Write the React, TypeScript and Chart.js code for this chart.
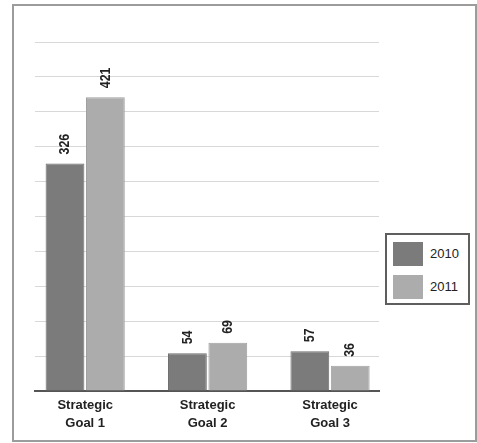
import React, { useEffect, useRef } from 'react';
import { Chart, registerables } from 'chart.js';

Chart.register(...registerables);

// Category labels (two lines each) and yearly series
const categories: string[][] = [
  ['Strategic', 'Goal 1'],
  ['Strategic', 'Goal 2'],
  ['Strategic', 'Goal 3'],
];
const seriesNames = ['2010', '2011'];
const values2010 = [326, 54, 57];
const values2011 = [421, 69, 36];
const seriesColors = ['#7b7b7b', '#acacac'];
const seriesEdges = ['#6e6e6e', '#a0a0a0'];

const yMax = 500;
const yStep = 50;

const FONT_SANS = "'Liberation Sans', Arial, sans-serif";

// Rotated value labels above each bar, drawn slightly condensed
const valueLabels = {
  id: 'valueLabels',
  afterDatasetsDraw(chart: any) {
    const ctx = chart.ctx;
    chart.data.datasets.forEach((ds: any, i: number) => {
      const meta = chart.getDatasetMeta(i);
      meta.data.forEach((bar: any, j: number) => {
        const v = ds.data[j].y;
        ctx.save();
        ctx.translate(bar.x, bar.y - 9);
        ctx.rotate(-Math.PI / 2);
        ctx.scale(0.82, 1);
        ctx.font = `bold 15px ${FONT_SANS}`;
        ctx.fillStyle = '#222';
        ctx.textAlign = 'left';
        ctx.textBaseline = 'middle';
        ctx.fillText(String(v), 0, 0);
        ctx.restore();
      });
    });
  },
};

export default function App() {
  const canvasRef = useRef<HTMLCanvasElement | null>(null);

  useEffect(() => {
    if (!canvasRef.current) return;
    const series = [values2010, values2011];
    const chart = new Chart(canvasRef.current, {
      type: 'bar',
      data: {
        datasets: series.map((vals, i) => ({
          label: seriesNames[i],
          data: vals.map((v, k) => ({ x: k, y: v })),
          backgroundColor: seriesColors[i],
          borderColor: seriesEdges[i],
          borderWidth: 1,
          categoryPercentage: 0.66,
          barPercentage: 0.96,
        })),
      },
      options: {
        responsive: false,
        animation: false,
        layout: { padding: { left: 35, right: 98, top: 42, bottom: 2 } },
        plugins: {
          legend: { display: false },
          tooltip: { enabled: false },
        },
        scales: {
          x: {
            type: 'linear',
            offset: false,
            min: -0.41,
            max: 2.4,
            grid: { display: false, drawTicks: false, offset: false },
            border: { display: true, color: '#555', width: 2 },
            ticks: {
              stepSize: 1,
              includeBounds: false,
              autoSkip: false,
              maxRotation: 0,
              padding: 5,
              color: '#222',
              font: { family: FONT_SANS, size: 13, weight: 'bold', lineHeight: '18px' },
              callback: (v: any) => categories[v as number] ?? '',
            },
            afterFit: (scale: any) => {
              scale.height = 50;
            },
          },
          y: {
            min: 0,
            max: yMax,
            ticks: { display: false, stepSize: yStep },
            grid: { color: '#d8d8d8', lineWidth: 1, drawTicks: false },
            border: { display: false },
            afterFit: (scale: any) => {
              scale.width = 0;
            },
          },
        },
      } as any,
      plugins: [valueLabels],
    });
    return () => chart.destroy();
  }, []);

  return (
    <div style={{ position: 'fixed', left: 0, top: 0, width: 477, height: 443, background: '#fff' }}>
      <div
        style={{
          position: 'absolute',
          left: 12,
          top: 4,
          width: 465,
          height: 438,
          border: '2px solid #9c9c9c',
          boxSizing: 'border-box',
        }}
      />
      <canvas ref={canvasRef} width={477} height={443} style={{ position: 'absolute', left: 0, top: 0 }} />
      <div
        style={{
          position: 'absolute',
          left: 385,
          top: 233,
          width: 85,
          height: 72,
          border: '2px solid #5e5e5e',
          boxSizing: 'border-box',
          background: '#fff',
        }}
      >
        {seriesNames.map((name, i) => (
          <div
            key={name}
            style={{
              position: 'absolute',
              left: 6,
              top: 6 + i * 33,
              display: 'flex',
              alignItems: 'center',
              height: 25,
            }}
          >
            <div style={{ width: 30, height: 24, background: seriesColors[i] }} />
            <span
              style={{
                marginLeft: 7,
                font: `13px ${FONT_SANS}`,
                color: '#222',
              }}
            >
              {name}
            </span>
          </div>
        ))}
      </div>
    </div>
  );
}
